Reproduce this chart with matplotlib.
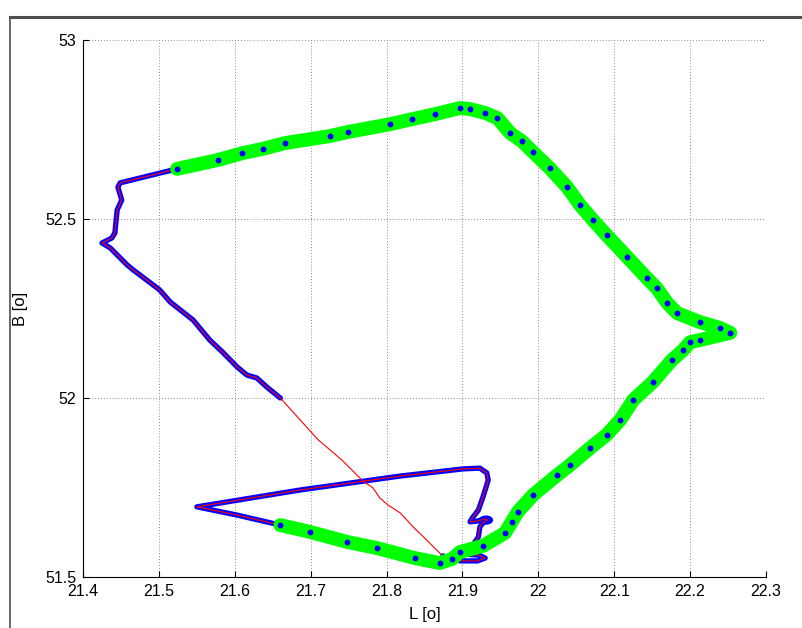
import matplotlib
matplotlib.use("Agg")
import matplotlib.pyplot as plt
from matplotlib.lines import Line2D
from matplotlib.patches import Ellipse

# Blue track, part 1 (bottom loop -> triangle -> start of green)
blue1_L = [21.874, 21.897, 21.920, 21.930, 21.922, 21.901, 21.899, 21.913, 21.921, 21.923,
           21.927, 21.933, 21.930, 21.919, 21.910, 21.913, 21.921, 21.927, 21.934, 21.932,
           21.923, 21.901, 21.818, 21.686, 21.550, 21.603, 21.660]
blue1_B = [51.559, 51.545, 51.545, 51.553, 51.561, 51.564, 51.573, 51.587, 51.612, 51.640,
           51.651, 51.659, 51.662, 51.656, 51.654, 51.665, 51.687, 51.723, 51.771, 51.791,
           51.804, 51.802, 51.782, 51.743, 51.696, 51.673, 51.645]

# Green track
green_L = [21.660, 21.699, 21.748, 21.787, 21.837, 21.870, 21.886, 21.897, 21.927, 21.956,
           21.965, 21.973, 21.993, 22.025, 22.042, 22.068, 22.090, 22.108, 22.125, 22.151,
           22.176, 22.191, 22.200, 22.213, 22.253, 22.239, 22.213, 22.183, 22.170, 22.156,
           22.143, 22.117, 22.090, 22.072, 22.055, 22.038, 22.015, 21.993, 21.978, 21.963,
           21.946, 21.930, 21.910, 21.897, 21.864, 21.834, 21.805, 21.749, 21.726, 21.666,
           21.637, 21.610, 21.578, 21.524]
green_B = [51.645, 51.626, 51.598, 51.581, 51.553, 51.539, 51.550, 51.570, 51.587, 51.623,
           51.654, 51.682, 51.729, 51.785, 51.813, 51.860, 51.897, 51.939, 51.994, 52.045,
           52.106, 52.134, 52.156, 52.162, 52.182, 52.196, 52.212, 52.237, 52.265, 52.307,
           52.335, 52.394, 52.455, 52.497, 52.539, 52.589, 52.642, 52.687, 52.718, 52.740,
           52.782, 52.796, 52.807, 52.810, 52.793, 52.779, 52.765, 52.743, 52.732, 52.712,
           52.696, 52.684, 52.665, 52.640]

# Blue track, part 2 (end of green -> west -> south-east)
blue2_L = [21.524, 21.449, 21.446, 21.451, 21.445, 21.442, 21.438, 21.425, 21.436, 21.458,
           21.466, 21.501, 21.515, 21.545, 21.567, 21.584, 21.603, 21.616, 21.629, 21.642,
           21.660]
blue2_B = [52.640, 52.601, 52.589, 52.553, 52.525, 52.461, 52.447, 52.433, 52.419, 52.372,
           52.358, 52.302, 52.268, 52.218, 52.162, 52.128, 52.087, 52.064, 52.056, 52.031,
           52.000]

# Red-only gap (thin line)
gap_L = [21.660, 21.710, 21.741, 21.769, 21.782, 21.791, 21.802, 21.818, 21.835, 21.853,
         21.870, 21.874]
gap_B = [52.000, 51.883, 51.827, 51.768, 51.749, 51.721, 51.701, 51.679, 51.640, 51.603,
         51.567, 51.559]

# small blob on the blue track
blob_L = 21.931
blob_B = 51.659

x_ticks = [21.4, 21.5, 21.6, 21.7, 21.8, 21.9, 22.0, 22.1, 22.2, 22.3]
x_labels = ["21.4", "21.5", "21.6", "21.7", "21.8", "21.9", "22", "22.1", "22.2", "22.3"]
y_ticks = [51.5, 52.0, 52.5, 53.0]
y_labels = ["51.5", "52", "52.5", "53"]

plt.rcParams['font.family'] = ['Liberation Sans', 'DejaVu Sans']

fig = plt.figure(figsize=(8.03, 6.28), dpi=100)
ax = fig.add_axes([83/803, 1-577/628, (766-83)/803, (577-40)/628])

red_L = blue1_L + green_L[1:] + blue2_L[1:] + gap_L[1:]
red_B = blue1_B + green_B[1:] + blue2_B[1:] + gap_B[1:]

kw = dict(solid_capstyle='round', solid_joinstyle='round')
ax.plot(blue1_L, blue1_B, color='#0000ff', lw=3.8, zorder=2, **kw)
ax.plot(blue2_L, blue2_B, color='#0000ff', lw=3.8, zorder=2, **kw)
ax.add_patch(Ellipse((blob_L, blob_B), width=0.017, height=0.022, color='#0000ff', zorder=2))
ax.plot(red_L, red_B, color='#ff0000', lw=0.8, zorder=3)
ax.plot(green_L, green_B, color='#00ff00', lw=10, zorder=4, **kw)
ax.plot(green_L, green_B, linestyle='none', marker='o', color='#0000ff', markersize=3.2, zorder=5)

ax.set_xlim(21.4, 22.3)
ax.set_ylim(51.5, 53.0)
ax.set_xticks(x_ticks)
ax.set_xticklabels(x_labels)
ax.set_yticks(y_ticks)
ax.set_yticklabels(y_labels)
ax.tick_params(direction='in', length=4, labelsize=11.5, width=0.8, colors='black', pad=5)
ax.grid(True, linestyle=(0, (1, 2.5)), color='0.4', lw=0.6)
ax.set_axisbelow(True)
ax.spines['top'].set_visible(False)
ax.spines['right'].set_visible(False)
ax.set_xlabel("L [o]", fontsize=12, labelpad=6)
ax.set_ylabel("B [o]", fontsize=12, labelpad=12)

# figure frame lines (top and left)
fig.add_artist(Line2D([10/803, 1.0], [1-17/628, 1-17/628], color='0.3', lw=2.2, transform=fig.transFigure))
fig.add_artist(Line2D([10/803, 10/803], [0, 1-17/628], color='0.3', lw=1.2, transform=fig.transFigure))

fig.savefig("out.png", dpi=100)
